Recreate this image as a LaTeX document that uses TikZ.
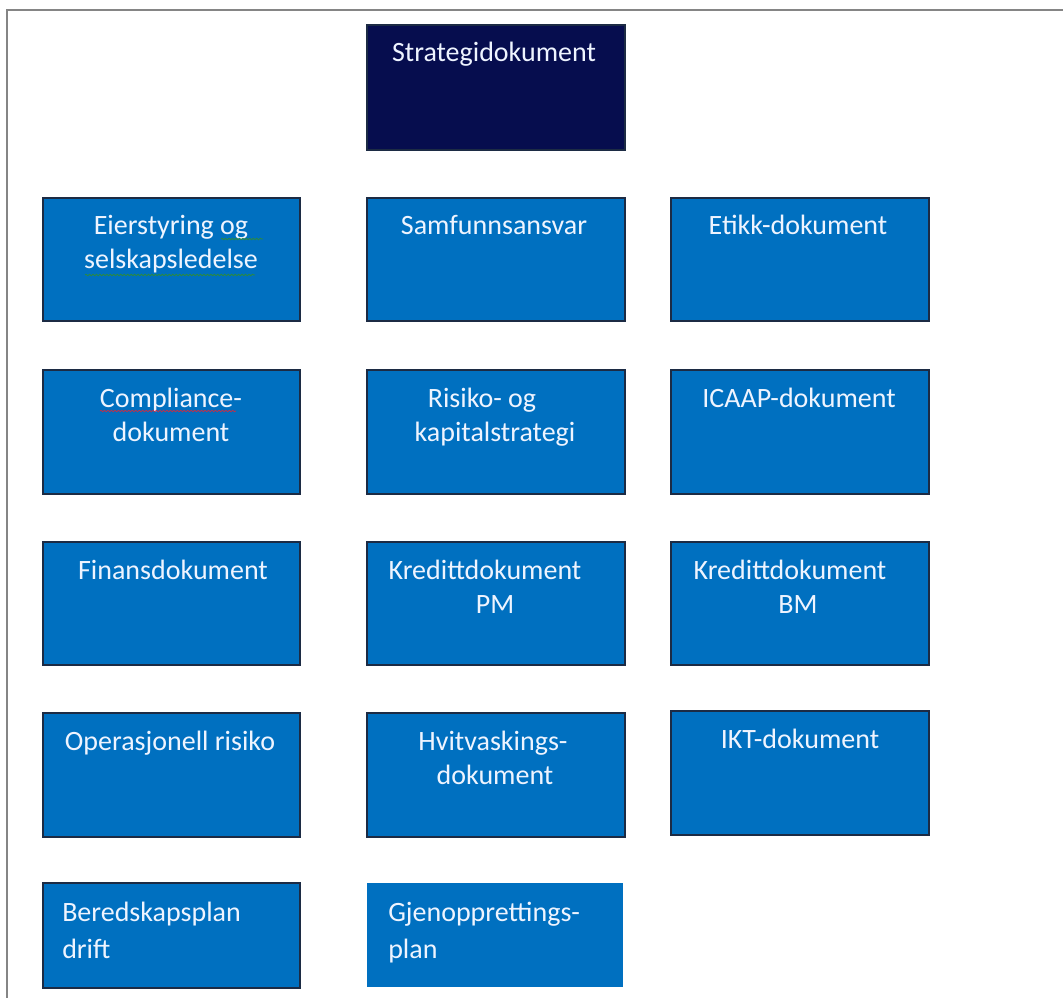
\documentclass[tikz,border=0pt]{standalone}
\usepackage{fontspec}
\setmainfont{Carlito}
\usetikzlibrary{fit,decorations.pathmorphing}
\definecolor{boxblue}{HTML}{0070C0}
\definecolor{navy}{HTML}{060D4E}
\definecolor{edgecol}{HTML}{1C2B44}
\definecolor{framecol}{HTML}{858585}
\definecolor{txt}{HTML}{EEF4FF}
\definecolor{spellgreen}{HTML}{2E8B3A}
\definecolor{spellred}{HTML}{C0304A}
\begin{document}
\begin{tikzpicture}[x=0.75pt,y=-0.75pt,
  docbox/.style={rectangle, fill=boxblue, draw=edgecol, line width=1.2pt, inner sep=0pt},
  topbox/.style={docbox, fill=navy},
  plainbox/.style={rectangle, fill=boxblue, inner sep=0pt},
  lbl/.style={anchor=base, inner sep=0pt, text=txt, font=\fontsize{21}{25}\selectfont},
  lbll/.style={lbl, anchor=base west},
  wavy/.style={decorate, decoration={snake, amplitude=0.55pt, segment length=2.6pt}, line width=0.6pt}]
\useasboundingbox (0,0) rectangle (1063,998);
\clip (0,0) rectangle (1063,998);
\fill[white] (0,0) rectangle (1063,998);
% frame
\draw[framecol, line width=2pt] (7,1010) -- (7,10) -- (1075,10);

% boxes
\node[topbox, fit={(367,25) (625,150)}] (s0) {};
\node[docbox, fit={(43,198) (300,321)}] (a1) {};
\node[docbox, fit={(367,198) (625,321)}] (b1) {};
\node[docbox, fit={(671,198) (929,321)}] (c1) {};
\node[docbox, fit={(43,370) (300,494)}] (a2) {};
\node[docbox, fit={(367,370) (625,494)}] (b2) {};
\node[docbox, fit={(671,370) (929,494)}] (c2) {};
\node[docbox, fit={(43,542) (300,665)}] (a3) {};
\node[docbox, fit={(367,542) (625,665)}] (b3) {};
\node[docbox, fit={(671,542) (929,665)}] (c3) {};
\node[docbox, fit={(43,713) (300,837)}] (a4) {};
\node[docbox, fit={(367,713) (625,837)}] (b4) {};
\node[docbox, fit={(671,711) (929,835)}] (c4) {};
\node[docbox, fit={(43,883) (300,988)}] (a5) {};
\node[plainbox, fit={(367,883) (623,987)}] (b5) {};

% labels
\node[lbl] (s0t) at (494,62) {Strategidokument};
\node[lbl] (a1t) at (171,235) {Eierstyring og};
\node[lbl] (a1u) at (171,269) {selskapsledelse};
\node[lbl] (b1t) at (494,235) {Samfunnsansvar};
\node[lbl] (c1t) at (798,235) {Etikk-dokument};
\node[lbl] (a2t) at (171,407) {Compliance-};
\node[lbl] (a2u) at (171,441) {dokument};
\node[lbl] (b2t) at (482,407) {Risiko- og};
\node[lbl] (b2u) at (495,441) {kapitalstrategi};
\node[lbl] (c2t) at (799,407) {ICAAP-dokument};
\node[lbl] (a3t) at (173,579) {Finansdokument};
\node[lbl] (b3t) at (485,579) {Kredittdokument};
\node[lbl] (b3u) at (495,613) {PM};
\node[lbl] (c3t) at (790,579) {Kredittdokument};
\node[lbl] (c3u) at (798,613) {BM};
\node[lbl] (a4t) at (170,750) {Operasjonell risiko};
\node[lbl] (b4t) at (493,750) {Hvitvaskings-};
\node[lbl] (b4u) at (495,784) {dokument};
\node[lbl] (c4t) at (800,748) {IKT-dokument};
\node[lbll] (a5t) at (62,921) {Beredskapsplan};
\node[lbll] (a5u) at (62,958) {drift};
\node[lbll] (b5t) at (388,921) {Gjenopprettings-};
\node[lbll] (b5u) at (388,958) {plan};

% spell-check underlines
\draw[wavy, spellgreen] (221,239) -- (263,239);
\draw[wavy, spellgreen] (85,275) -- (255,275);
\draw[wavy, spellred] (100,411) -- (236,411);
\end{tikzpicture}
\end{document}
